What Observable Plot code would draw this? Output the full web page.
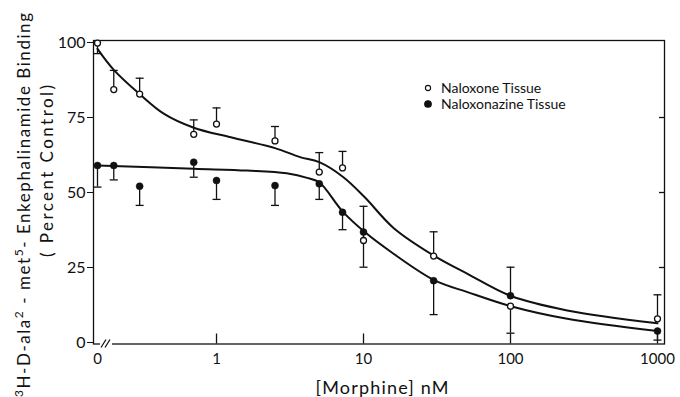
<!DOCTYPE html>
<html>
<head>
<meta charset="utf-8">
<script src="https://cdn.jsdelivr.net/npm/d3@7"></script>
<script src="https://cdn.jsdelivr.net/npm/@observablehq/plot@0.6"></script>
<style>
  html, body { margin: 0; padding: 0; background: #fff; }
  #wrap { position: relative; width: 680px; height: 397px; overflow: hidden; font-family: Lato, "Liberation Sans", sans-serif; }
  #legend { position: absolute; left: 423px; top: 80px; font-size: 14px; color: #111; line-height: 16px; }
  #legend .row { display: flex; align-items: center; white-space: nowrap; }
  #legend svg { margin-right: 8px; }
</style>
</head>
<body>
<div id="wrap"><div id="legend"></div></div>
<script>
// ---- data ----
const ZERO_AT = 0.155; // where the broken-axis "0" dose sits on the log axis
const concentrations = [0, 0.2, 0.3, 0.7, 1, 2.5, 5, 7.2, 10, 30, 100, 1000];
const naloxone       = [99.8, 84.3, 82.8, 69.4, 72.8, 67.2, 56.8, 58.2, 34.0, 28.8, 12.1, 7.9];
const naloxoneErr    = [-3.5, 6.4, 5.3, 4.8, 5.4, 4.8, 6.5, 5.5, 11.4, 8.1, -9.0, 8.0];
const naloxonazine   = [59.0, 59.0, 52.1, 60.1, 54.0, 52.3, 52.9, 43.4, 36.8, 20.6, 15.6, 3.8];
const naloxonazineErr= [-7.2, -4.8, -6.4, -5.0, -6.3, -6.6, -5.2, -5.8, -11.7, -11.3, 9.5, -3.0];

const fitNaloxoneX   = [0, 0.2, 0.3, 0.44, 0.7, 1.25, 2.5, 3.7, 5, 7.3, 10.2, 16, 30.5, 51, 102, 243, 1000];
const fitNaloxoneY   = [97.9, 90.9, 82.8, 76.2, 71.6, 68.4, 64.8, 61.8, 60.1, 55.1, 48.4, 38.2, 28.8, 22.9, 15.4, 10.7, 6.4];
const fitNaloxonazineX = [0, 0.7, 1.62, 3.0, 4.2, 5, 7.2, 10.2, 16, 30.5, 51, 102, 243, 1000];
const fitNaloxonazineY = [59.0, 57.9, 57.3, 56.4, 54.8, 53.4, 43.7, 36.8, 29.6, 20.7, 16.8, 12.0, 7.9, 3.8];

const xTickValues = [0, 1, 10, 100, 1000];
const xTickLabels = ["0", "1", "10", "100", "1000"];
const yTickValues = [0, 25, 50, 75, 100];
const seriesNames = ["Naloxone Tissue", "Naloxonazine Tissue"];
const xTitle = "[Morphine] nM";

// ---- build tables ----
const xOf = c => c === 0 ? ZERO_AT : c;
const ptsA = concentrations.map((c, i) => ({x: xOf(c), y: naloxone[i], y2: naloxone[i] + naloxoneErr[i]}));
const ptsB = concentrations.map((c, i) => ({x: xOf(c), y: naloxonazine[i], y2: naloxonazine[i] + naloxonazineErr[i]}));
const fitA = fitNaloxoneX.map((c, i) => ({x: xOf(c), y: fitNaloxoneY[i]}));
const fitB = fitNaloxonazineX.map((c, i) => ({x: xOf(c), y: fitNaloxonazineY[i]}));
const errs = ptsA.concat(ptsB);
const tickPos = xTickValues.map(xOf);
const tickLab = new Map(tickPos.map((p, i) => [p, xTickLabels[i]]));

const capSymbol = { draw(ctx, size) { const r = Math.sqrt(size / Math.PI); ctx.moveTo(-r, 0); ctx.lineTo(r, 0); } };

const W = 680, H = 397, mL = 93, mR = 16, mT = 40, mB = 53.5;
const chart = Plot.plot({
  width: W, height: H,
  marginLeft: mL, marginRight: mR, marginTop: mT, marginBottom: mB,
  style: {fontFamily: "Lato, 'Liberation Sans', sans-serif", fontSize: "16px", color: "#111", background: "#fff"},
  x: {type: "log", domain: [0.1456, 1116]},
  y: {domain: [-0.5, 100.67]},
  marks: [
    Plot.frame({stroke: "#111", strokeWidth: 1.3}),
    Plot.axisY({ticks: yTickValues, tickSize: 6, tickPadding: 2, fontSize: 16, label: null}),
    Plot.axisX({ticks: tickPos, tickFormat: d => tickLab.get(d), tickSize: 0, tickPadding: 9, fontSize: 15, label: null}),
    Plot.ruleX(tickPos.slice(1), {insetTop: (H - mT - mB) - 10, stroke: "#111", strokeWidth: 1.3}),
    Plot.ruleY([25, 50, 75], {insetLeft: (W - mL - mR) - 5, stroke: "#111", strokeWidth: 1.3}),
    Plot.line(fitA, {x: "x", y: "y", curve: "catmull-rom", stroke: "#111", strokeWidth: 2}),
    Plot.line(fitB, {x: "x", y: "y", curve: "catmull-rom", stroke: "#111", strokeWidth: 2}),
    Plot.ruleX(errs, {x: "x", y1: "y", y2: "y2", stroke: "#111", strokeWidth: 1.3}),
    Plot.dot(errs, {x: "x", y: "y2", symbol: capSymbol, r: 4, stroke: "#111", strokeWidth: 1.3}),
    Plot.dot(ptsA, {x: "x", y: "y", r: 3, fill: "white", stroke: "#111", strokeWidth: 1.3}),
    Plot.dot(ptsB, {x: "x", y: "y", r: 3.5, fill: "#111", stroke: "#111", strokeWidth: 0.5})
  ]
});

document.getElementById("wrap").appendChild(chart);
const svg = d3.select(chart);
const xs = chart.scale("x"), ys = chart.scale("y");
const x0 = xs.apply(ZERO_AT), yb = ys.apply(-0.5);

// axis break on the bottom axis
svg.append("rect").attr("x", x0 + 3).attr("y", yb - 3).attr("width", 12).attr("height", 6).attr("fill", "#fff");
[0, 4].forEach(o => svg.append("line")
  .attr("x1", x0 + 4 + o).attr("y1", yb + 4).attr("x2", x0 + 9 + o).attr("y2", yb - 4)
  .attr("stroke", "#111").attr("stroke-width", 1.2));

// x title
svg.append("text").attr("x", 382).attr("y", 394).attr("text-anchor", "middle")
  .attr("font-size", 18).attr("fill", "#111")
  .attr("textLength", 133).attr("lengthAdjust", "spacing").text(xTitle);

// y title (two lines, rotated)
const t1 = svg.append("text").attr("transform", "translate(30,205) rotate(-90)")
  .attr("text-anchor", "middle").attr("font-size", 17).attr("fill", "#111")
  .attr("textLength", 384).attr("lengthAdjust", "spacing");
t1.append("tspan").attr("baseline-shift", "super").attr("font-size", 12).text("3");
t1.append("tspan").text("H-D-ala");
t1.append("tspan").attr("baseline-shift", "super").attr("font-size", 12).text("2");
t1.append("tspan").text(" - met");
t1.append("tspan").attr("baseline-shift", "super").attr("font-size", 12).text("5");
t1.append("tspan").text("- Enkephalinamide Binding");
svg.append("text").attr("transform", "translate(53,171) rotate(-90)")
  .attr("text-anchor", "middle").attr("font-size", 17).attr("fill", "#111")
  .attr("textLength", 172).attr("lengthAdjust", "spacing").text("( Percent Control)");

// legend
const leg = document.getElementById("legend");
seriesNames.forEach((name, i) => {
  const row = document.createElement("div");
  row.className = "row";
  row.innerHTML = `<svg width="10" height="10"><circle cx="5" cy="5" r="${i ? 3.3 : 2.6}" fill="${i ? "#111" : "#fff"}" stroke="#111" stroke-width="1.1"/></svg><span>${name}</span>`;
  leg.appendChild(row);
});
</script>
</body>
</html>
